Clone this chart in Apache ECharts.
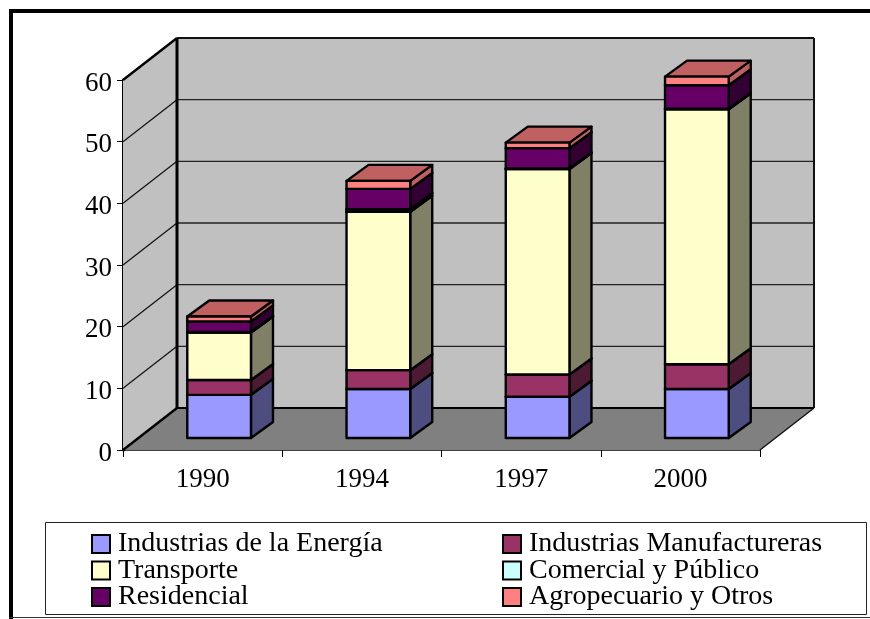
<!DOCTYPE html>
<html><head><meta charset="utf-8">
<style>html,body{margin:0;padding:0;background:#fff}#c{width:870px;height:619px}</style>
<script src="https://cdn.jsdelivr.net/npm/echarts@6/dist/echarts.min.js"></script>
</head><body><div id="c"></div>
<script>
const categories = ['1990','1994','1997','2000'];
const energia = [7.0, 7.95, 6.7, 7.95];
const manufactureras = [2.4, 3.05, 3.6, 4.0];
const transporte = [7.7, 25.7, 33.3, 41.35];
const comercial = [0.1, 0.4, 0.1, 0.1];
const residencial = [1.7, 3.3, 3.3, 3.8];
const agropecuario = [0.8, 1.3, 0.9, 1.4];
const yTicks = [10,20,30,40,50,60];

const FONT = '"Liberation Serif","Times New Roman",serif';
const DX = 54, DY = -42;
const stacks = [
  {name:'Industrias de la Energía', vals:energia, color:'#9999FF', side:'#4D4D80', top:'#7373BF'},
  {name:'Industrias Manufactureras', vals:manufactureras, color:'#993366', side:'#4D1A33', top:'#732650'},
  {name:'Transporte', vals:transporte, color:'#FFFFCC', side:'#808066', top:'#BFBF99'},
  {name:'Comercial y Público', vals:comercial, color:'#CCFFFF', side:'#668080', top:'#99BFBF'},
  {name:'Residencial', vals:residencial, color:'#660066', side:'#330033', top:'#4D004D'},
  {name:'Agropecuario y Otros', vals:agropecuario, color:'#FF8080', side:'#BF6060', top:'#C06060'}
];
const running = categories.map(()=>0);
const barStyle = (fill)=>({fill, stroke:'#000', lineWidth:2.4, lineJoin:'round'});
const series = stacks.map(s=>{
  const data = s.vals.map((v,i)=>{const a=running[i]; running[i]+=v; return [i,a,running[i]];});
  return {
    type:'custom', name:s.name, coordinateSystem:'cartesian2d', clip:false, z:5,
    itemStyle:{color:s.color,borderColor:'#000',borderWidth:2},
    data, encode:{x:0,y:[1,2]},
    renderItem(params,api){
      const i=api.value(0);
      const band=api.size([1,0])[0];
      const c0=api.coord([i,api.value(1)]), c1=api.coord([i,api.value(2)]);
      const hw=band*0.2;
      const fx=16.5, fy=-12, bx=22, by=-16;
      const L=c0[0]+fx-hw, R=c0[0]+fx+hw, B=c0[1]+fy, T=c1[1]+fy;
      return {type:'group',children:[
        {type:'polygon',shape:{points:[[R,B],[R+bx,B+by],[R+bx,T+by],[R,T]]},style:barStyle(s.side)},
        {type:'polygon',shape:{points:[[L,T],[R,T],[R+bx,T+by],[L+bx,T+by]]},style:barStyle(s.top)},
        {type:'rect',shape:{x:L,y:T,width:R-L,height:B-T},style:barStyle(s.color)}
      ]};
    }
  };
});
const walls = {
  type:'custom', clip:false, z:1, silent:true, data:[[0]], encode:{x:0},
  renderItem(params,api){
    const n=categories.length, band=api.size([1,0])[0];
    const o=api.coord([0,0]); const x0=o[0]-band/2, y0=o[1];
    const x1=x0+band*n, yt=api.coord([0,60])[1];
    const line=(a,b,w,col)=>({type:'line',shape:{x1:a[0],y1:a[1],x2:b[0],y2:b[1]},style:{stroke:col||'#000',lineWidth:w}});
    const ch=[
      {type:'polygon',shape:{points:[[x0,y0],[x0+DX,y0+DY],[x0+DX,yt+DY],[x0,yt]]},style:{fill:'#C0C0C0'}},
      {type:'rect',shape:{x:x0+DX,y:yt+DY,width:x1-x0,height:y0-yt},style:{fill:'#C0C0C0'}},
      {type:'polygon',shape:{points:[[x0,y0],[x1,y0],[x1+DX,y0+DY],[x0+DX,y0+DY]]},style:{fill:'#808080'}}
    ];
    yTicks.forEach(t=>{
      const y=api.coord([0,t])[1];
      if(t<60){
        ch.push(line([x0,y],[x0+DX,y+DY],1.2,'#111'));
        ch.push(line([x0+DX,y+DY],[x1+DX,y+DY],1.4,'#222'));
      }
    });
    ch.push(line([x0,yt],[x0+DX,yt+DY],2.4,'#000'));
    ch.push(line([x0+DX,yt+DY],[x1+DX,yt+DY],1.8,'#111'));
    ch.push(line([x1+DX,yt+DY],[x1+DX,y0+DY],2,'#111'));
    ch.push(line([x0+DX,yt+DY],[x0+DX,y0+DY],3,'#000'));
    ch.push(line([x0,y0],[x0+DX,y0+DY],2.4,'#000'));
    ch.push(line([x0+DX,y0+DY],[x1+DX,y0+DY],2,'#000'));
    ch.push(line([x1,y0],[x1+DX,y0+DY],1.4,'#111'));
    return {type:'group',children:ch};
  }
};
const legendCommon = {
  orient:'vertical', icon:'rect', itemWidth:18, itemHeight:18, itemGap:-1.5,
  padding:0, selectedMode:false, height:120,
  itemStyle:{borderColor:'#000',borderWidth:2},
  textStyle:{fontFamily:FONT,fontSize:28,color:'#000',padding:[0,0,0,3]}
};
const chart = echarts.init(document.getElementById('c'),null,{renderer:'canvas'});
chart.setOption({
  animation:false,
  backgroundColor:'#fff',
  grid:{left:123,top:80,width:637,height:370,containLabel:false},
  xAxis:{type:'category',data:categories,boundaryGap:true,
    axisLine:{lineStyle:{color:'#000',width:1.5}},
    axisTick:{show:true,alignWithLabel:false,length:7,lineStyle:{color:'#000',width:1}},
    axisLabel:{fontFamily:FONT,fontSize:27,color:'#000',margin:16,interval:0},
    splitLine:{show:false}},
  yAxis:{type:'value',min:0,max:60,interval:10,
    axisLine:{show:true,lineStyle:{color:'#000',width:3}},
    axisTick:{show:true,length:6,lineStyle:{color:'#000',width:1}},
    axisLabel:{fontFamily:FONT,fontSize:27,color:'#000',margin:11,verticalAlign:'top',lineHeight:7},
    splitLine:{show:false}},
  legend:[
    Object.assign({},legendCommon,{left:91,top:530,data:[stacks[0].name,stacks[2].name,stacks[4].name]}),
    Object.assign({},legendCommon,{left:502,top:530,data:[stacks[1].name,stacks[3].name,stacks[5].name]})
  ],
  graphic:[
    {type:'rect',z:-1,shape:{x:45.5,y:522.5,width:821,height:92},style:{fill:'#fff',stroke:'#222',lineWidth:1}},
    {type:'rect',shape:{x:9,y:9,width:861,height:4},style:{fill:'#000'}},
    {type:'rect',shape:{x:9,y:9,width:4,height:610},style:{fill:'#000'}},
    {type:'rect',shape:{x:9,y:617,width:861,height:1},style:{fill:'#333'}}
  ],
  series:[walls].concat(series)
});
</script></body></html>
